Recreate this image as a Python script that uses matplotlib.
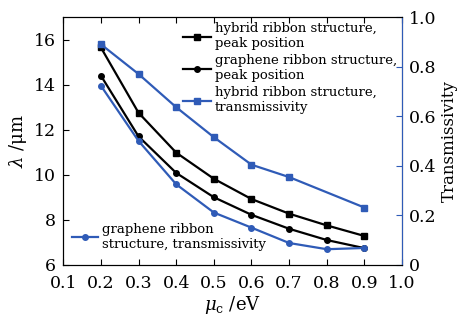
import matplotlib.pyplot as plt

plt.rcParams["font.family"] = ["DejaVu Serif"]
plt.rcParams["mathtext.fontset"] = "dejavuserif"

mu_c = [0.2, 0.3, 0.4, 0.5, 0.6, 0.7, 0.8, 0.9]
hybrid_peak = [15.65, 12.75, 10.98, 9.82, 8.92, 8.27, 7.75, 7.28]
graphene_peak = [14.4, 11.7, 10.08, 9.0, 8.22, 7.6, 7.1, 6.74]

mu_c_hybrid_t = [0.2, 0.3, 0.4, 0.5, 0.6, 0.7, 0.9]
hybrid_trans = [0.89, 0.77, 0.636, 0.515, 0.404, 0.354, 0.231]
graphene_trans = [0.723, 0.50, 0.325, 0.211, 0.15, 0.088, 0.063, 0.068]

blue = "#2f5bb7"

fig, ax = plt.subplots(figsize=(4.58, 3.21), dpi=100)
ax2 = ax.twinx()

l1, = ax.plot(mu_c, hybrid_peak, color="black", marker="s", ms=4, lw=1.6)
l2, = ax.plot(mu_c, graphene_peak, color="black", marker="o", ms=4, lw=1.6)
l3, = ax2.plot(mu_c_hybrid_t, hybrid_trans, color=blue, marker="s", ms=4, lw=1.6)
l4, = ax2.plot(mu_c, graphene_trans, color=blue, marker="o", ms=4, lw=1.6)

ax.set_xlim(0.1, 1.0)
ax.set_ylim(6, 17)
ax2.set_ylim(0, 1.0)
ax.set_xticks([0.1, 0.2, 0.3, 0.4, 0.5, 0.6, 0.7, 0.8, 0.9, 1.0])
ax.set_xticklabels(["0.1", "0.2", "0.3", "0.4", "0.5", "0.6", "0.7", "0.8", "0.9", "1.0"])
ax.set_yticks([6, 8, 10, 12, 14, 16])
ax2.set_yticks([0, 0.2, 0.4, 0.6, 0.8, 1.0])
ax2.set_yticklabels(["0", "0.2", "0.4", "0.6", "0.8", "1.0"])

ax.tick_params(axis="x", direction="in", top=True, labelsize=12.5, length=4, pad=7)
ax.tick_params(axis="y", direction="in", labelsize=12.5, length=4, pad=5)
ax2.tick_params(axis="y", direction="in", labelsize=12.5, length=4, pad=5, color=blue)
ax2.spines["right"].set_color(blue)

ax.set_xlabel(r"$\mu_{\rm c}$ /eV", fontsize=13, labelpad=2)
ax.set_ylabel(r"$\lambda$ /μm", fontsize=13, labelpad=4)
ax2.set_ylabel("Transmissivity", fontsize=12, labelpad=3)

ax2.legend(
    [l1, l2, l3],
    ["hybrid ribbon structure,\npeak position",
     "graphene ribbon structure,\npeak position",
     "hybrid ribbon structure,\ntransmissivity"],
    loc="upper right", frameon=False, fontsize=9.5,
    handlelength=2.1, handletextpad=0.3, labelspacing=0.3,
    borderaxespad=0.25, borderpad=0.15,
)
ax.legend(
    [l4],
    ["graphene ribbon\nstructure, transmissivity"],
    loc="lower left", frameon=False, fontsize=9.5,
    handlelength=1.9, handletextpad=0.35, borderaxespad=0.3,
    bbox_to_anchor=(0.0, 0.02),
)

plt.subplots_adjust(left=0.138, right=0.878, top=0.947, bottom=0.175)
plt.savefig("out.png", dpi=100)
